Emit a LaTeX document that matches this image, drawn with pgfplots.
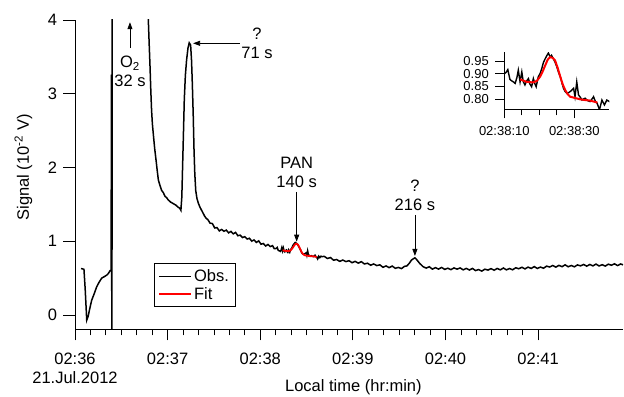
\documentclass[border=0pt]{standalone}
\usepackage{fontspec}
\setmainfont{Liberation Sans}
\usepackage{pgfplots}
\usepackage{pgfplotstable}
\pgfplotsset{compat=1.18}
\usetikzlibrary{arrows.meta}
\newcommand\lab{\fontsize{16.5bp}{19bp}\selectfont}
\newcommand\ins{\fontsize{13bp}{15bp}\selectfont}

\pgfplotstableread{
t v
3.9 0.63
5.8 0.62
6.6 0.35
7.6 -0.07
8.5 -0.02
9.5 0.08
10.8 0.20
12.3 0.28
14.0 0.38
15.5 0.44
17.3 0.50
19.0 0.52
20.5 0.54
21.5 0.56
22.7 0.60
23.4 0.60
23.6 3.26
23.9 -1.0
24.3 10
40 10
47.2 4.4
47.5 4.0
48.1 3.65
48.6 3.37
49.1 3.05
49.6 2.78
50.1 2.60
50.7 2.46
51.6 2.26
52.5 2.10
53.2 1.97
54.0 1.83
55.0 1.76
56.1 1.69
57.2 1.66
58.3 1.61
59.4 1.59
60.4 1.56
62.0 1.53
63.7 1.51
65.3 1.49
66.9 1.46
67.8 1.45
68.6 1.42
69.2 1.60
69.7 2.01
70.3 2.50
70.8 2.92
71.5 3.25
72.3 3.46
73.2 3.62
74.0 3.69
74.9 3.66
75.5 3.45
76.0 3.14
76.6 2.70
77.1 2.24
77.6 1.92
78.2 1.69
79.0 1.58
80.0 1.51
81.0 1.46
82.0 1.42
83.0 1.38
84.0 1.34
85.0 1.31
86.0 1.295
87.5 1.245
89.0 1.24
90.5 1.18
92.0 1.185
93.5 1.14
95.0 1.16
96.5 1.135
98.0 1.151
99.5 1.114
101.0 1.133
102.5 1.10
104.0 1.12
105.5 1.075
107.0 1.083
108.5 1.05
110.0 1.062
111.5 1.03
113.0 1.04
114.5 1.001
116.0 1.018
117.5 0.984
119.0 1.005
120.5 0.96
122.0 0.969
123.5 0.935
125.0 0.956
126.5 0.928
128.0 0.94
129.0 0.901
130.0 0.900
130.5 0.905
131.0 0.916
131.6 0.878
132.1 0.872
132.6 0.868
133.1 0.862
133.6 0.885
134.0 0.914
134.5 0.868
135.0 0.907
135.4 0.870
135.9 0.856
136.4 0.872
136.9 0.881
137.3 0.860
137.8 0.849
138.3 0.881
138.7 0.862
139.1 0.849
139.7 0.888
140.2 0.900
140.7 0.920
141.2 0.945
141.7 0.959
142.2 0.972
142.6 0.981
143.1 0.965
143.5 0.972
144.0 0.959
144.5 0.945
145.0 0.927
145.5 0.905
146.0 0.888
146.5 0.862
146.9 0.843
147.4 0.830
147.9 0.823
148.4 0.826
148.8 0.830
149.3 0.836
149.8 0.843
150.2 0.810
150.7 0.868
151.2 0.817
151.7 0.808
152.2 0.797
152.7 0.802
153.1 0.804
153.8 0.795
154.5 0.791
155.0 0.800
155.5 0.810
156.0 0.792
156.5 0.785
157.2 0.759
157.9 0.797
158.6 0.778
159.3 0.797
160.0 0.791
161.5 0.795
163.5 0.766
165.5 0.779
167.5 0.743
169.5 0.752
171.5 0.727
173.5 0.745
175.5 0.724
177.5 0.736
179.5 0.709
181.5 0.727
183.5 0.703
185.5 0.723
187.5 0.692
189.5 0.702
191.5 0.675
193.5 0.692
195.5 0.670
197.5 0.680
199.5 0.647
201.5 0.665
203.5 0.642
205.5 0.663
207.5 0.633
209.5 0.645
211.5 0.629
213.5 0.660
215.0 0.665
216.5 0.700
218.0 0.745
219.0 0.760
220.2 0.775
221.2 0.755
222.3 0.725
223.5 0.695
225.5 0.655
227.5 0.636
229.5 0.654
231.5 0.622
233.5 0.642
235.5 0.622
237.5 0.645
239.5 0.618
241.5 0.634
243.5 0.615
245.5 0.638
247.5 0.622
249.5 0.638
251.5 0.612
253.5 0.632
255.5 0.610
257.5 0.631
259.5 0.602
261.5 0.616
263.5 0.595
265.5 0.621
267.5 0.609
269.5 0.629
271.5 0.607
273.5 0.631
275.5 0.612
277.5 0.637
279.5 0.612
281.5 0.630
283.5 0.613
285.5 0.640
287.5 0.627
289.5 0.647
291.5 0.625
293.5 0.649
295.5 0.631
297.5 0.656
299.5 0.631
301.5 0.650
303.5 0.634
305.5 0.662
307.5 0.651
309.5 0.671
311.5 0.649
313.5 0.673
315.5 0.655
317.5 0.680
319.5 0.654
321.5 0.671
323.5 0.653
325.5 0.679
327.5 0.666
329.5 0.685
331.5 0.662
333.5 0.685
335.5 0.666
337.5 0.690
339.5 0.665
341.5 0.682
343.5 0.663
345.5 0.689
347.5 0.675
349.5 0.694
351.5 0.670
353.5 0.692
355.0 0.680
}\obs

\pgfplotstableread{
t v
134.5 0.878
136.4 0.868
138.3 0.866
139.3 0.872
140.2 0.888
141.0 0.910
141.7 0.933
142.4 0.955
143.1 0.965
143.8 0.962
144.5 0.952
145.2 0.925
146.0 0.888
146.7 0.858
147.4 0.836
148.1 0.820
148.8 0.810
150.2 0.805
151.6 0.800
153.0 0.797
154.5 0.795
156.6 0.787
}\fit

\begin{document}
\begin{tikzpicture}
\path[use as bounding box] (0bp,0bp) rectangle (624bp,397bp);
\begin{axis}[
  at={(75bp,68bp)}, anchor=south west,
  scale only axis, width=548bp, height=309bp,
  xmin=0, xmax=355, ymin=-0.19, ymax=4,
  axis x line*=bottom, axis y line*=left,
  axis line style={-, line width=0.8bp},
  tick align=outside,
  major tick length=11.5bp, minor tick length=6.5bp,
  tick style={black, line width=0.8bp},
  xtick={0,60,120,180,240,300},
  xticklabels={{02:36\\21.Jul.2012},02:37,02:38,02:39,02:40,02:41},
  minor x tick num=5,
  ytick={0,1,2,3,4},
  xticklabel style={align=center, font=\lab, yshift=-9bp},
  yticklabel style={font=\lab, xshift=-3bp},
  /pgf/number format/assume math mode=true,
  xlabel={Local time (hr:min)},
  ylabel={Signal (10\textsuperscript{-2} V)},
  xlabel style={font=\lab, at={(axis description cs:0.508,-0.187)}, anchor=center},
  ylabel style={font=\lab, at={(axis description cs:-0.094,0.523)}, anchor=center},
  clip mode=individual,
  legend style={at={(axis description cs:0.144,0.212)}, anchor=north west,
    draw=black, line width=0.8bp, font=\lab, inner xsep=4bp, inner ysep=4bp,
    row sep=0bp, cells={anchor=west}},
  legend image code/.code={\draw[#1] (0bp,0bp) -- (32bp,0bp);},
]
\addplot[black, line width=1.5bp] table[x=t,y=v] {\obs};
\addlegendentry{Obs.}
\addplot[red, line width=1.8bp] table[x=t,y=v] {\fit};
\addlegendentry{Fit}

\node[align=center, font=\lab] at (axis cs:35.6,3.30) {O\textsubscript{2}\\32 s};
\draw[line width=0.8bp, -{Triangle[length=7bp,width=5bp]}] (axis cs:35.6,3.62) -- (axis cs:35.6,3.97);
\node[align=center, font=\lab] at (axis cs:117.9,3.69) {?\\71 s};
\draw[line width=0.8bp, -{Triangle[length=7bp,width=5bp]}] (axis cs:106.8,3.684) -- (axis cs:76.5,3.684);
\node[align=center, font=\lab] at (axis cs:143.6,1.932) {PAN\\140 s};
\draw[line width=0.8bp, -{Triangle[length=7bp,width=5bp]}] (axis cs:143.6,1.668) -- (axis cs:143.6,0.994);
\node[align=center, font=\lab] at (axis cs:220.2,1.62) {?\\216 s};
\draw[line width=0.8bp, -{Triangle[length=7bp,width=5bp]}] (axis cs:220.2,1.356) -- (axis cs:220.2,0.800);
\end{axis}

\begin{axis}[
  at={(504.3bp,287.5bp)}, anchor=south west,
  scale only axis, width=105bp, height=57bp,
  xmin=130, xmax=160, ymin=0.76, ymax=0.983,
  axis x line*=bottom, axis y line*=left,
  axis line style={-, line width=0.8bp},
  tick align=outside,
  major tick length=9bp, minor tick length=6bp,
  tick style={black, line width=0.8bp},
  xtick={130,150}, xticklabels={02:38:10,02:38:30},
  minor x tick num=3,
  ytick={0.80,0.85,0.90,0.95},
  yticklabel style={font=\ins, xshift=-3bp, /pgf/number format/.cd, fixed, fixed zerofill, precision=2},
  xticklabel style={font=\ins, yshift=-4bp},
  /pgf/number format/assume math mode=true,
  clip mode=individual,
]
\addplot[black, line width=1.4bp] table[x=t,y=v] {\obs};
\addplot[red, line width=2bp] table[x=t,y=v] {\fit};
\end{axis}
\end{tikzpicture}
\end{document}
